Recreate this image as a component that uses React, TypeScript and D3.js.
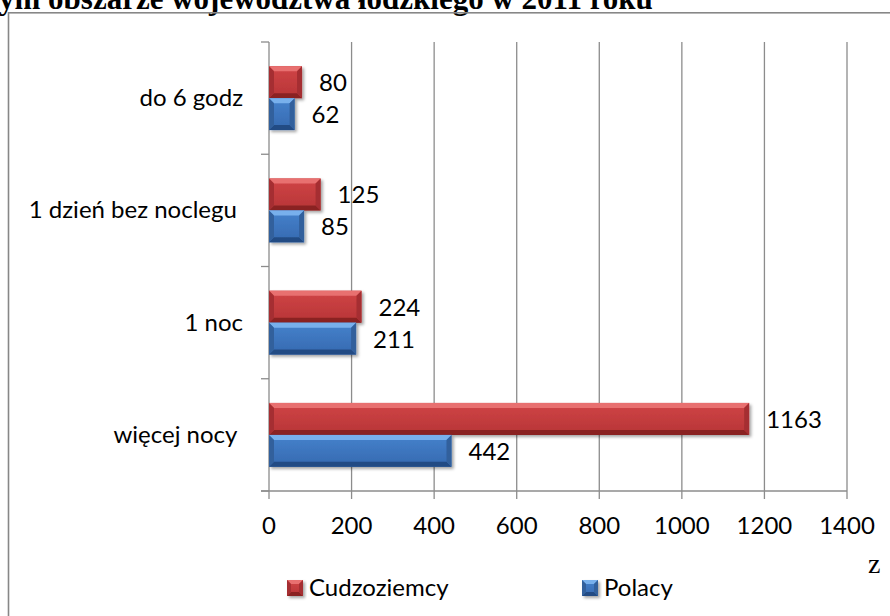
import React from "react";
import * as d3 from "d3";

const categories = ["do 6 godz", "1 dzień bez noclegu ", "1 noc", "więcej nocy "];
const seriesNames = ["Cudzoziemcy", "Polacy"];
const cudzoziemcy = [80, 125, 224, 1163];
const polacy = [62, 85, 211, 442];
const xTicks = [0, 200, 400, 600, 800, 1000, 1200, 1400];
const titleText = "ym obszarze województwa łódzkiego w 2011 roku";
const unitText = "z";

const W = 890;
const H = 616;
const FONT = "Lato, 'Open Sans', sans-serif";
const FS = 24;

const palette: Record<string, { face0: string; face1: string; top: string; bottom: string; side: string }> = {
  Cudzoziemcy: { face0: "#d04547", face1: "#b73436", top: "#e87070", bottom: "#8a2424", side: "#a52f31" },
  Polacy: { face0: "#4682cc", face1: "#3569b0", top: "#78b0ec", bottom: "#244c84", side: "#31609c" },
};

function BevelBar({ x0, x1, y0, y1, name, b = 5 }: { x0: number; x1: number; y0: number; y1: number; name: string; b?: number }) {
  const c = palette[name];
  const bb = Math.min(b, (x1 - x0) / 2, (y1 - y0) / 2);
  const id = name === "Cudzoziemcy" ? "gRed" : "gBlue";
  return (
    <g filter="url(#shadow)">
      <rect x={x0} y={y0} width={x1 - x0} height={y1 - y0} fill={`url(#${id})`} />
      <polygon points={`${x0},${y0} ${x1},${y0} ${x1 - bb},${y0 + bb} ${x0 + bb},${y0 + bb}`} fill={c.top} />
      <polygon points={`${x0},${y1} ${x1},${y1} ${x1 - bb},${y1 - bb} ${x0 + bb},${y1 - bb}`} fill={c.bottom} />
      <polygon points={`${x0},${y0} ${x0 + bb},${y0 + bb} ${x0 + bb},${y1 - bb} ${x0},${y1}`} fill={c.side} />
      <polygon points={`${x1},${y0} ${x1 - bb},${y0 + bb} ${x1 - bb},${y1 - bb} ${x1},${y1}`} fill={c.side} />
    </g>
  );
}

export default function App() {
  const x = d3.scaleLinear().domain([0, 1400]).range([269, 847]);
  const y = d3.scaleBand<string>().domain(categories).range([42, 491]).paddingInner(0.43).paddingOuter(0.215);
  const ySub = d3.scaleBand<string>().domain(seriesNames).range([0, y.bandwidth()]);
  const values: Record<string, number[]> = { Cudzoziemcy: cudzoziemcy, Polacy: polacy };
  const step = y.step();
  const catBounds = d3.range(categories.length + 1).map((i) => 42 + i * step);
  const plotTop = 42;
  const plotBottom = 491;

  return (
    <svg width={W} height={H} style={{ position: "absolute", left: 0, top: 0, background: "#fff" }} fontFamily={FONT}>
      <defs>
        <linearGradient id="gRed" x1="0" y1="0" x2="0" y2="1">
          <stop offset="0" stopColor={palette.Cudzoziemcy.face0} />
          <stop offset="1" stopColor={palette.Cudzoziemcy.face1} />
        </linearGradient>
        <linearGradient id="gBlue" x1="0" y1="0" x2="0" y2="1">
          <stop offset="0" stopColor={palette.Polacy.face0} />
          <stop offset="1" stopColor={palette.Polacy.face1} />
        </linearGradient>
        <filter id="shadow" x="-10%" y="-20%" width="130%" height="160%">
          <feDropShadow dx="2" dy="2" stdDeviation="1.5" floodColor="#000" floodOpacity="0.35" />
        </filter>
      </defs>

      {/* title (cut off at top, as in the reference) */}
      <text x={-1} y={9} fontFamily="'Liberation Serif', 'Times New Roman', serif" fontWeight="bold" fontSize={31} fill="#000">
        {titleText}
      </text>

      {/* outer frame */}
      <rect x={8.5} y={12.8} width={1000} height={800} fill="none" stroke="#878787" strokeWidth={1.6} />

      {/* gridlines */}
      {xTicks.slice(1).map((t) => (
        <line key={t} x1={x(t)} x2={x(t)} y1={plotTop} y2={plotBottom + 8} stroke="#8c8c8c" strokeWidth={1.3} />
      ))}
      {/* axes */}
      <line x1={x(0)} x2={x(0)} y1={plotTop} y2={plotBottom + 8} stroke="#8c8c8c" strokeWidth={1.3} />
      <line x1={x(0) - 8} x2={x(1400)} y1={plotBottom} y2={plotBottom} stroke="#8c8c8c" strokeWidth={1.3} />
      {catBounds.map((b, i) => (
        <line key={i} x1={x(0) - 8} x2={x(0)} y1={b} y2={b} stroke="#8c8c8c" strokeWidth={1.3} />
      ))}

      {/* bars */}
      {categories.map((cat, ci) =>
        seriesNames.map((s) => {
          const v = values[s][ci];
          const y0 = (y(cat) as number) + (ySub(s) as number);
          const y1 = y0 + ySub.bandwidth();
          return (
            <g key={cat + s}>
              <BevelBar x0={x(0)} x1={x(v)} y0={y0} y1={y1} name={s} />
              <text x={x(v) + 17} y={(y0 + y1) / 2 + 9} fontSize={FS} fill="#000">
                {v}
              </text>
            </g>
          );
        })
      )}

      {/* category labels */}
      {categories.map((cat) => (
        <text
          key={cat}
          x={243}
          y={(y(cat) as number) + y.bandwidth() / 2 + 8}
          textAnchor="end"
          fontSize={FS}
          fill="#000"
          style={{ whiteSpace: "pre" }}
        >
          {cat}
        </text>
      ))}

      {/* x tick labels */}
      {xTicks.map((t) => (
        <text key={t} x={x(t)} y={534} textAnchor="middle" fontSize={FS} fill="#000">
          {t}
        </text>
      ))}

      {/* unit */}
      <text x={868} y={573} fontFamily="'Liberation Serif', 'Times New Roman', serif" fontSize={28} fill="#000">
        {unitText}
      </text>

      {/* legend */}
      {seriesNames.map((s, i) => {
        const lx = i === 0 ? 287 : 582;
        const ly = 580;
        return (
          <g key={s}>
            <BevelBar x0={lx} x1={lx + 16} y0={ly} y1={ly + 16} name={s} b={4} />
            <text x={lx + 22} y={ly + 16} fontSize={FS} fill="#000">
              {s}
            </text>
          </g>
        );
      })}
    </svg>
  );
}
